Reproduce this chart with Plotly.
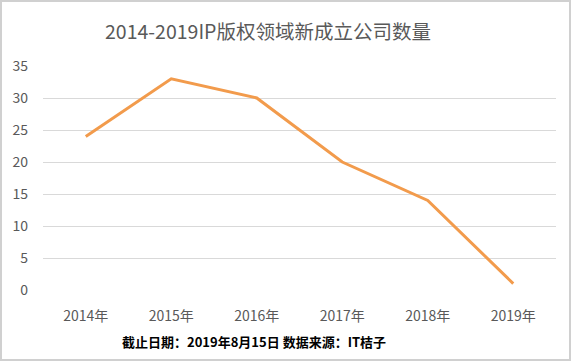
import plotly.graph_objects as go

years = ["2014年", "2015年", "2016年", "2017年", "2018年", "2019年"]
counts = [24, 33, 30, 20, 14, 1]
y_ticks = [0, 5, 10, 15, 20, 25, 30, 35]

W, H = 571, 361
ml, mr, mt, mb = 43, 15, 66, 71
pw, ph = W - ml - mr, H - mt - mb

fig = go.Figure(go.Scatter(
    x=years, y=counts, mode="lines",
    line=dict(color="#F29B4C", width=3),
    hoverinfo="x+y",
))

font = "Noto Sans CJK SC, Microsoft YaHei, sans-serif"
fig.update_layout(
    width=W, height=H,
    margin=dict(l=ml, r=mr, t=mt, b=mb, autoexpand=False),
    paper_bgcolor="white", plot_bgcolor="white",
    showlegend=False,
    font=dict(family=font, color="#595959", size=14),
    title=dict(text="2014-2019IP版权领域新成立公司数量", x=268 / W, xanchor="center",
               y=1 - 32 / H, yanchor="middle",
               font=dict(size=19.5, color="#595959", family=font)),
    xaxis=dict(type="category", range=[-0.5, 5.5], showgrid=False, zeroline=False,
               showline=False, ticks="", automargin=False, ticklabelstandoff=16,
               tickfont=dict(size=14, color="#595959")),
    yaxis=dict(range=[0, 35], tickvals=y_ticks, showgrid=True, gridcolor="#D9D9D9",
               gridwidth=1, zeroline=False, showline=False, ticks="", automargin=False,
               tickfont=dict(size=14, color="#595959"), ticklabelstandoff=14),
)

fig.add_annotation(
    text="<b>截止日期：2019年8月15日 数据来源：IT桔子</b>",
    xref="paper", yref="paper", x=(254 - ml) / pw, y=-(341 - (H - mb)) / ph,
    xanchor="center", yanchor="middle", showarrow=False,
    font=dict(size=13, color="#000000", family=font),
)

fig.add_shape(
    type="rect", xref="paper", yref="paper",
    x0=-(ml - 1) / pw, x1=1 + (mr - 1) / pw,
    y0=-(mb - 1) / ph, y1=1 + (mt - 1) / ph,
    line=dict(color="#D0D0D0", width=2), layer="below",
)

fig.write_html("out.html", config={"displayModeBar": False},
               post_script="document.body.style.margin='0';document.body.style.overflow='hidden';")
